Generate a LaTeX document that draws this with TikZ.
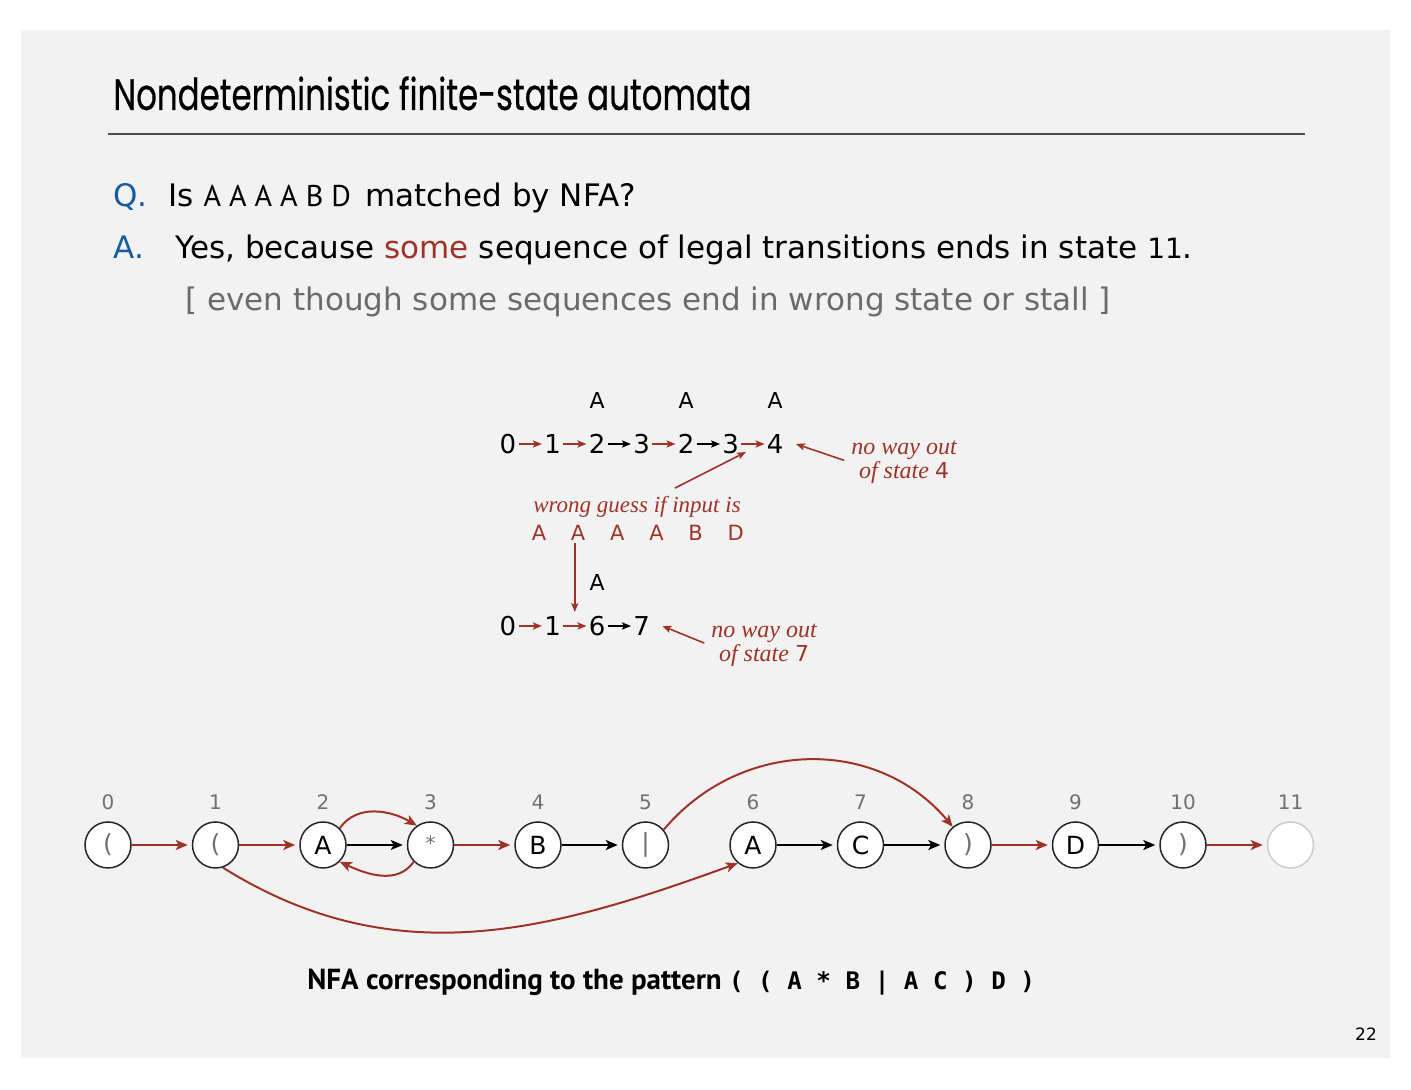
\documentclass[tikz,border=0pt]{standalone}
\usepackage{fontspec}
\usepackage{graphicx}
\usepackage{xcolor}
\usepackage{tikz}
\usetikzlibrary{arrows.meta,positioning,calc}
\setmainfont{DejaVu Sans}
\newfontfamily\titlefont[FakeBold=0.5]{Poppins}
\newfontfamily\notefont{Liberation Serif}
\newfontfamily\capfont{PT Sans}
\newfontfamily\patfont{DejaVu Sans Mono}
\definecolor{slidebg}{RGB}{242,242,242}
\definecolor{nfared}{RGB}{158,52,40}
\definecolor{qblue}{RGB}{24,92,158}
\definecolor{numgray}{RGB}{112,112,112}
\newcommand{\bodysize}{\fontsize{15.5}{18}\selectfont}

\begin{document}
\begin{tikzpicture}[x=0.5pt, y=0.5pt,
  state/.style={circle, draw=black!85, fill=white, line width=0.75pt,
    minimum size=23pt, inner sep=0pt, font=\fontsize{12.5}{12.5}\selectfont},
  punct/.style={state, text=numgray},
  stnum/.style={text=numgray, inner sep=0pt, font=\fontsize{10}{10}\selectfont},
  num/.style={label={[stnum]above:#1}},
  label distance=5.5pt,
  digit/.style={inner sep=1pt, font=\fontsize{13}{13}\selectfont},
  lbl/.style={inner sep=1pt, font=\fontsize{11}{11}\selectfont},
  redlet/.style={inner sep=1pt, text=nfared, font=\fontsize{10.5}{10.5}\selectfont},
  edgered/.style={-{Stealth[length=6pt, width=5pt, inset=1.5pt]},
    line width=1pt, draw=nfared, shorten >=2pt},
  edgeblk/.style={edgered, draw=black},
  seqred/.style={-{Stealth[length=4.5pt, width=3.6pt, inset=1pt]},
    line width=0.8pt, draw=nfared},
  seqblk/.style={seqred, draw=black},
  note/.style={text=nfared, align=center, inner sep=1pt,
    font=\notefont\itshape\fontsize{12}{12}\selectfont},
  node distance=30pt]
\useasboundingbox (0,0) rectangle (1411,1090);
\fill[white] (0,0) rectangle (1411,1090);
\fill[slidebg] (21,32) rectangle (1390,1060);

% title and question
\node[anchor=base west, inner sep=0pt, font=\titlefont\fontsize{22}{22}\selectfont]
  (title) at (113,980) {\scalebox{0.737}[1]{Nondeterministic finite-state automata}};
\draw[line width=1pt, black!70] (108,956) -- (1305,956);
\node[anchor=base west, inner sep=0pt, text=qblue, font=\bodysize] (q) at (113,883) {Q.};
\node[anchor=base west, inner sep=0pt, font=\bodysize] (qtext) at (168,883)
  {Is {\capfont\fontsize{15}{16}\selectfont A A A A B D}\hspace{0.15em} matched by NFA?};
\node[anchor=base west, inner sep=0pt, text=qblue, font=\bodysize] (a) at (113,831) {A.};
\node[anchor=base west, inner sep=0pt, font=\bodysize] (atext) at (175,831)
  {Yes, because \textcolor{nfared}{some} sequence of legal transitions ends in state
   {\fontsize{14}{16}\selectfont 11}.};
\node[anchor=base west, inner sep=0pt, text=black!58, font=\bodysize] (atext2) at (185,779)
  {[ even though some sequences end in wrong state or stall ]};

% first guess: stuck in state 4
\node[digit] (u0) at (508,646) {0};
\node[digit, right=11.6pt of u0] (u1) {1};
\node[digit, right=11.6pt of u1] (u2) {2};
\node[digit, right=11.6pt of u2] (u3) {3};
\node[digit, right=11.6pt of u3] (u4) {2};
\node[digit, right=11.6pt of u4] (u5) {3};
\node[digit, right=11.6pt of u5] (u6) {4};
\node[lbl, above=10.5pt of u2] (ua2) {A};
\node[lbl, above=10.5pt of u4] (ua4) {A};
\node[lbl, above=10.5pt of u6] (ua6) {A};
\draw[seqred] (u0) -- (u1);
\draw[seqred] (u1) -- (u2);
\draw[seqblk] (u2) -- (u3);
\draw[seqred] (u3) -- (u4);
\draw[seqblk] (u4) -- (u5);
\draw[seqred] (u5) -- (u6);
\coordinate (m56) at ($(u5)!0.5!(u6)$);
\node[note] (out4) at (904,628) {no way out\\of state {\normalfont\fontsize{11}{11}\selectfont 4}};
\draw[seqred, shorten <=2.5pt] (out4.west) -- ([xshift=5pt]u6.east);

% wrong guess
\node[note, font=\notefont\itshape\fontsize{11.5}{12}\selectfont] (guess) at (637,583)
  {wrong guess if input is};
\node[redlet] (w1) at (539,557) {A};
\node[redlet, right=10pt of w1] (w2) {A};
\node[redlet, right=10pt of w2] (w3) {A};
\node[redlet, right=10pt of w3] (w4) {A};
\node[redlet, right=10pt of w4] (w5) {B};
\node[redlet, right=10pt of w5] (w6) {D};
\draw[seqred] ([xshift=19pt, yshift=3pt]guess.north) -- ([shift={(-3.5pt,-4pt)}]m56);

% second guess: stuck in state 7
\node[digit] (v0) at (508,464) {0};
\node[digit, right=11.6pt of v0] (v1) {1};
\node[digit, right=11.6pt of v1] (v2) {6};
\node[digit, right=11.6pt of v2] (v3) {7};
\node[lbl, above=10.5pt of v2] (va2) {A};
\draw[seqred] (v0) -- (v1);
\draw[seqred] (v1) -- (v2);
\draw[seqblk] (v2) -- (v3);
\coordinate (m12) at ($(v1)!0.5!(v2)$);
\draw[seqred] (w2.south -| m12) -- ([yshift=7pt]m12);
\node[note] (out7) at (764,445) {no way out\\of state {\normalfont\fontsize{11}{11}\selectfont 7}};
\draw[seqred, shorten <=2.5pt] (out7.west) -- ([xshift=5pt]v3.east);

% the NFA
\node[punct, num=0] (n0) at (108,245) {(};
\node[punct, num=1, right=of n0] (n1) {(};
\node[state, num=2, right=of n1] (n2) {A};
\node[punct, num=3, right=of n2] (n3) {\raisebox{1.5pt}{\fontsize{10}{10}\selectfont *}};
\node[state, num=4, right=of n3] (n4) {B};
\node[punct, num=5, right=of n4] (n5) {|};
\node[state, num=6, right=of n5] (n6) {A};
\node[state, num=7, right=of n6] (n7) {C};
\node[punct, num=8, right=of n7] (n8) {)};
\node[state, num=9, right=of n8] (n9) {D};
\node[punct, num=10, right=of n9] (n10) {)};
\node[state, draw=black!20, num=11, right=of n10] (n11) {};
\draw[edgered] (n0) -- (n1);
\draw[edgered] (n1) -- (n2);
\draw[edgeblk] (n2) -- (n3);
\draw[edgered] (n3) -- (n4);
\draw[edgeblk] (n4) -- (n5);
\draw[edgeblk] (n6) -- (n7);
\draw[edgeblk] (n7) -- (n8);
\draw[edgered] (n8) -- (n9);
\draw[edgeblk] (n9) -- (n10);
\draw[edgered] (n10) -- (n11);
\draw[edgered, shorten >=0pt] (n2.45) to[out=55, in=150] (n3.125);
\draw[edgered, shorten >=0pt] (n3.225) to[out=235, in=-25] (n2.-45);
\draw[edgered, shorten >=0pt] (n1.-72) to[out=-32, in=200, looseness=1] (n6.230);
\draw[edgered, shorten >=0pt] (n5.40) to[out=50, in=130, looseness=1.05] (n8.130);

\node[anchor=base west, inner sep=0pt] (caption) at (307,100)
  {\capfont\bfseries\fontsize{14.5}{16}\selectfont NFA corresponding to the pattern
   {\patfont\bfseries\fontsize{12.1}{14}\selectfont ( ( A * B | A C ) D )}};
\node[inner sep=0pt, font=\fontsize{8.5}{8.5}\selectfont] (page) at (1366,56) {22};
\end{tikzpicture}
\end{document}
